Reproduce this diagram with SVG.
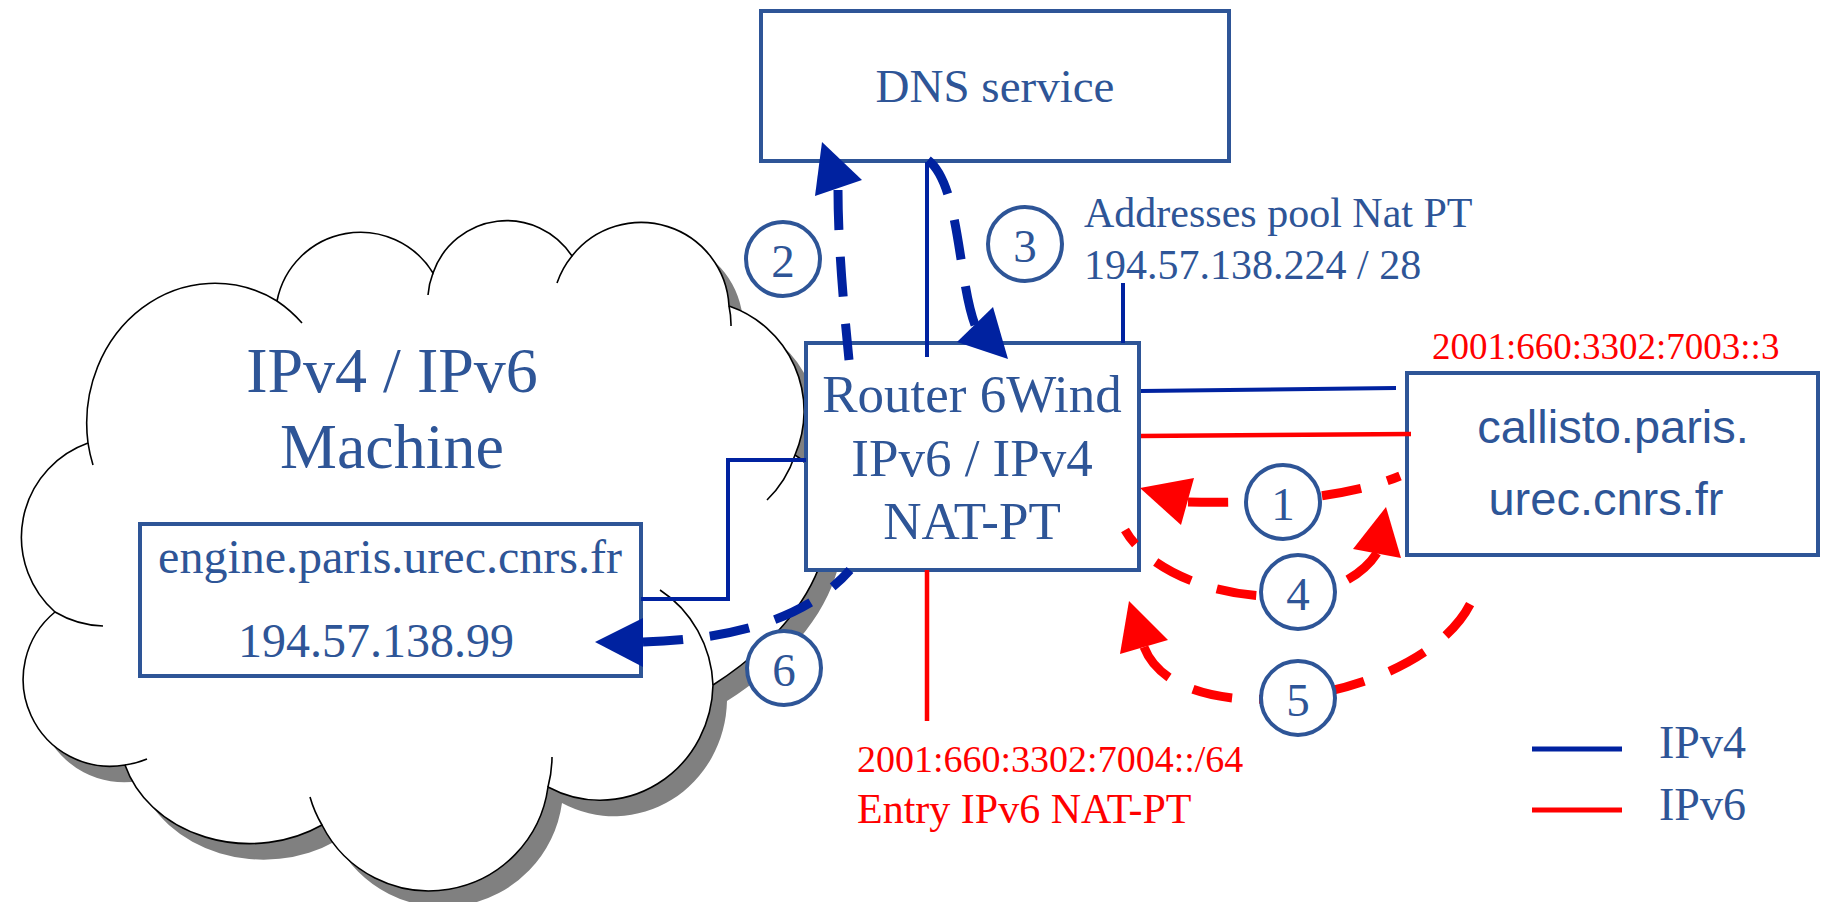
<svg xmlns="http://www.w3.org/2000/svg" width="1821" height="902" viewBox="0 0 1821 902">
<style>
.box{fill:#fff;stroke:#2E5597;stroke-width:4}
.t{font-family:"Liberation Serif","Times New Roman",serif;fill:#2E5597}
.ts{font-family:"Liberation Sans",Arial,sans-serif;fill:#2E5597}
.tr{font-family:"Liberation Serif","Times New Roman",serif;fill:#FF0000}
.v4{fill:none;stroke:#0022A0;stroke-width:4}
.v6{fill:none;stroke:#FF0000;stroke-width:4.5}
.d4{fill:none;stroke:#0022A0;stroke-width:9;stroke-dasharray:40 27}
.d6{fill:none;stroke:#FF0000;stroke-width:9;stroke-dasharray:40 27}
.h4{fill:#0022A0}
.h6{fill:#FF0000}
.circ{fill:#fff;stroke:#2E5597;stroke-width:4}
.cloud{fill:#fff;stroke:#000;stroke-width:1.6}
.tail{fill:none;stroke:#000;stroke-width:1.6}
</style>
<defs>
<path id="cloudOutline" d="M 88 443 A 128 140 0 0 1 277 301 A 85 85 0 0 1 433 273 A 78 78 0 0 1 572 256 A 88 88 0 0 1 729 306 A 111 111 0 0 1 795 455 C 850 490 845 600 713 685 A 113 118 0 0 1 548 787 A 120 120 0 0 1 322 825 A 130 110 0 0 1 125 765 A 87 87 0 0 1 55 612 A 100 100 0 0 1 88 443 Z"/>
</defs>
<g id="cloud">
<use href="#cloudOutline" transform="translate(14,16)" fill="#808080"/>
<use href="#cloudOutline" class="cloud"/>
<path class="tail" d="M 93 465 A 128 140 0 0 1 88 443 M 277 301 A 128 140 0 0 1 302 323 M 428 295 A 78 78 0 0 1 433 273 M 557 283 A 88 88 0 0 1 572 256 M 729 306 A 88 88 0 0 1 731 326 M 795 455 A 111 111 0 0 1 767 500 M 660 590 A 113 118 0 0 1 713 685 M 552 757 A 120 120 0 0 1 548 787 M 322 825 A 120 120 0 0 1 310 797 M 147 759 A 87 87 0 0 1 125 765 M 103 626 A 100 100 0 0 1 55 612"/>
<text class="t" x="392" y="392" font-size="64" text-anchor="middle">IPv4 / IPv6</text>
<text class="t" x="392" y="468" font-size="64" text-anchor="middle">Machine</text>
</g>
<g id="engine">
<rect class="box" x="140" y="524" width="501" height="152"/>
<text class="t" x="390" y="573" font-size="48" text-anchor="middle">engine.paris.urec.cnrs.fr</text>
<text class="t" x="376" y="657" font-size="48" text-anchor="middle">194.57.138.99</text>
</g>
<g id="dns">
<rect class="box" x="761" y="11" width="468" height="150"/>
<text class="t" x="995" y="102" font-size="47" text-anchor="middle">DNS service</text>
</g>
<g id="router">
<rect class="box" x="806" y="343" width="333" height="227"/>
<text class="t" x="972" y="412" font-size="53" text-anchor="middle">Router 6Wind</text>
<text class="t" x="972" y="476" font-size="53" text-anchor="middle">IPv6 / IPv4</text>
<text class="t" x="972" y="539" font-size="53" text-anchor="middle">NAT-PT</text>
</g>
<g id="callisto">
<rect class="box" x="1407" y="373" width="411" height="182"/>
<text class="ts" x="1613" y="443" font-size="47" text-anchor="middle">callisto.paris.</text>
<text class="ts" x="1606" y="515" font-size="47" text-anchor="middle">urec.cnrs.fr</text>
</g>
<g id="labels">
<text class="t" x="1084" y="227" font-size="42">Addresses pool Nat PT</text>
<text class="t" x="1084" y="279" font-size="42">194.57.138.224 / 28</text>
<text class="tr" x="1432" y="359" font-size="37">2001:660:3302:7003::3</text>
<text class="tr" x="857" y="772" font-size="38">2001:660:3302:7004::/64</text>
<text class="tr" x="857" y="823" font-size="42">Entry IPv6 NAT-PT</text>
</g>
<g id="connectors">
<line class="v4" x1="927" y1="162" x2="927" y2="357"/>
<line class="v4" x1="1123" y1="283" x2="1123" y2="343"/>
<line class="v4" x1="1141" y1="391" x2="1396" y2="388"/>
<line class="v6" x1="1141" y1="436" x2="1411" y2="434"/>
<line class="v6" x1="927" y1="570" x2="927" y2="721"/>
<polyline class="v4" points="806,460 728,460 728,599 641,599"/>
<path class="d4" d="M 838 190 C 838 240 843 300 849 360"/>
<polygon class="h4" points="822,142 815,196 862,180"/>
<path class="d4" d="M 975 325 C 958 280 960 185 928 160"/>
<polygon class="h4" points="1008,359 957,342 993,307"/>
<path class="d4" d="M 643 642 Q 790 638 850 570"/>
<polygon class="h4" points="595,642 643,618 643,667"/>
<path class="d6" d="M 1188 502 Q 1330 505 1400 476"/>
<polygon class="h6" points="1140,488 1194,478 1181,525"/>
<path class="d6" d="M 1377 553 C 1330 625 1165 600 1125 530"/>
<polygon class="h6" points="1386,507 1353,549 1401,558"/>
<path class="d6" d="M 1144 647 C 1180 740 1430 700 1473 598"/>
<polygon class="h6" points="1129,601 1120,654 1168,640"/>
</g>
<g id="steps">
<circle class="circ" cx="1283" cy="502" r="37"/>
<text class="t" x="1283" y="520" font-size="47" text-anchor="middle">1</text>
<circle class="circ" cx="783" cy="259" r="37"/>
<text class="t" x="783" y="277" font-size="47" text-anchor="middle">2</text>
<circle class="circ" cx="1025" cy="244" r="37"/>
<text class="t" x="1025" y="262" font-size="47" text-anchor="middle">3</text>
<circle class="circ" cx="1298" cy="592" r="37"/>
<text class="t" x="1298" y="610" font-size="47" text-anchor="middle">4</text>
<circle class="circ" cx="1298" cy="698" r="37"/>
<text class="t" x="1298" y="716" font-size="47" text-anchor="middle">5</text>
<circle class="circ" cx="784" cy="668" r="37"/>
<text class="t" x="784" y="686" font-size="47" text-anchor="middle">6</text>
</g>
<g id="legend">
<line x1="1532" y1="749" x2="1622" y2="749" stroke="#0022A0" stroke-width="5"/>
<line x1="1532" y1="810" x2="1622" y2="810" stroke="#FF0000" stroke-width="5"/>
<text class="t" x="1659" y="758" font-size="46">IPv4</text>
<text class="t" x="1659" y="820" font-size="46">IPv6</text>
</g>
</svg>
